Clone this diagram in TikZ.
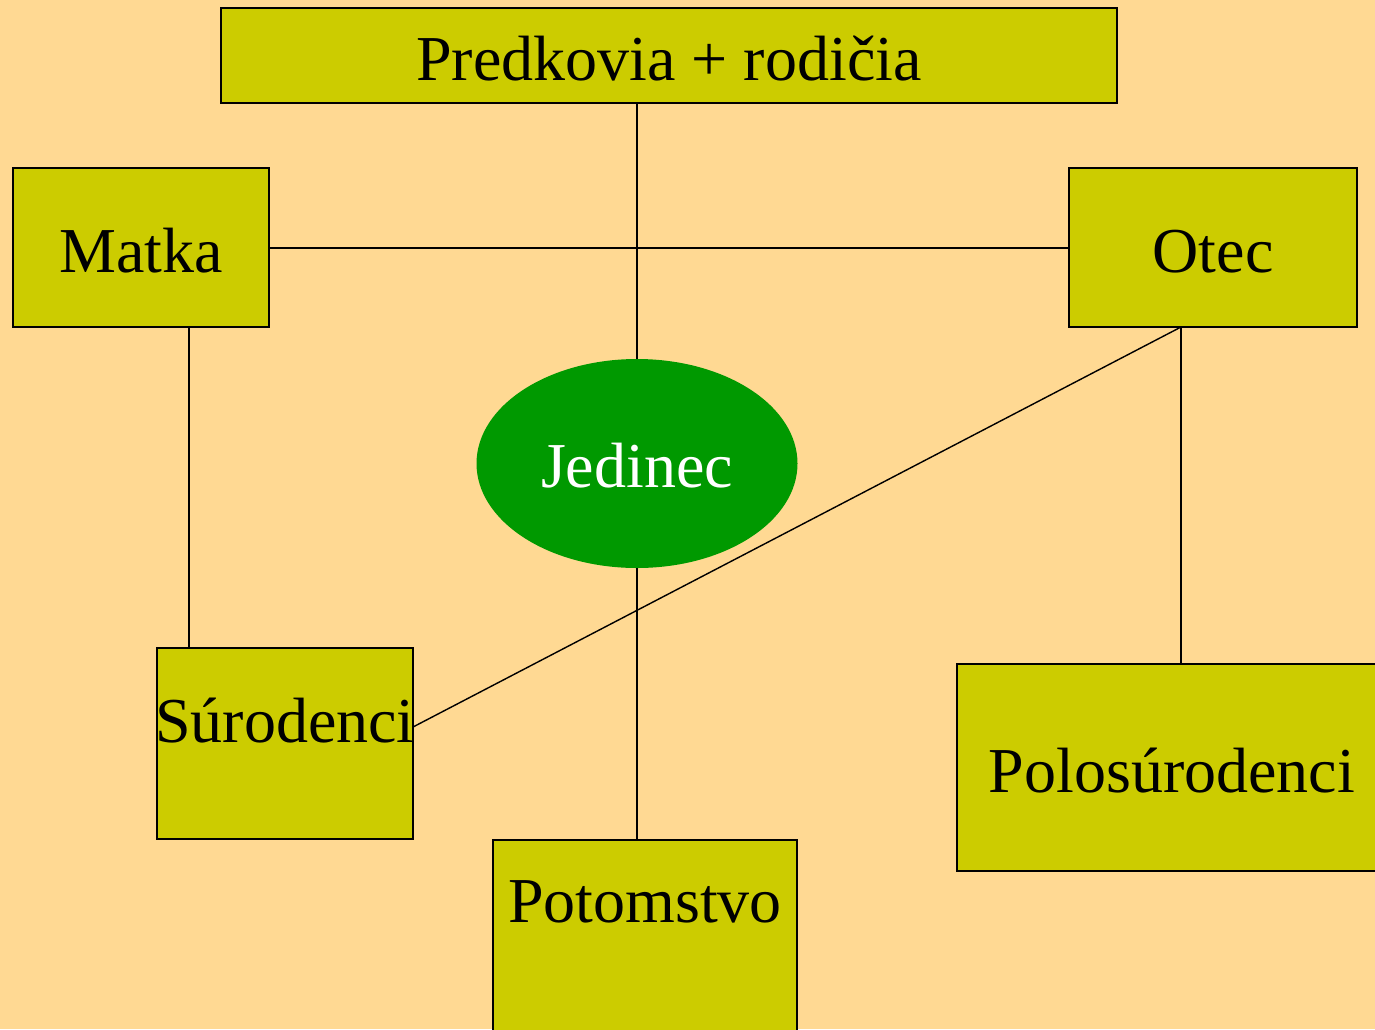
\documentclass[tikz,border=0pt]{standalone}
\usepackage{fontspec}
\setmainfont{Liberation Serif}
\usetikzlibrary{shapes.geometric}
\definecolor{bg}{RGB}{255,217,147}
\definecolor{boxc}{RGB}{204,204,0}
\definecolor{grn}{RGB}{0,153,0}
\tikzset{
  box/.style={draw=black, line width=1.6pt, fill=boxc, rectangle, inner sep=0pt},
  lbl/.style={font=\fontsize{64}{70}\selectfont, inner sep=0pt, anchor=base},
  conn/.style={draw=black, line width=1.4pt},
}
\begin{document}
\begin{tikzpicture}[x=1pt,y=-1pt]
\fill[bg] (0,0) rectangle (1375,1029);
\useasboundingbox (0,0) rectangle (1375,1029);
\clip (0,0) rectangle (1375,1029);
% boxes
\node[box, minimum width=896pt, minimum height=95pt] (pred) at (669,55.5) {};
\node[box, minimum width=256pt, minimum height=159pt] (matka) at (141,247.5) {};
\node[box, minimum width=288pt, minimum height=159pt] (otec) at (1213,247.5) {};
\node[box, minimum width=256pt, minimum height=191pt] (sur) at (285,743.5) {};
\node[box, minimum width=304pt, minimum height=220pt] (pot) at (645,950) {};
\node[box, minimum width=440pt, minimum height=207pt] (polo) at (1177,767.5) {};
\node[ellipse, fill=grn, minimum width=321pt, minimum height=209pt, inner sep=0pt] (jed) at (637,463.5) {};
% connectors
\coordinate (mb) at (189,327);
\coordinate (sb) at (189,648);
\coordinate (ob) at (1181,327);
\coordinate (pt) at (1181,664);
\coordinate (sr) at (413,727);
\draw[conn] (pred.south -| jed.north) -- (jed.north);
\draw[conn] (jed.south) -- (pot.north -| jed.south);
\draw[conn] ([yshift=-0.5pt]matka.east) -- ([yshift=-0.5pt]otec.west);
\draw[conn] (mb) -- (sb);
\draw[conn] (ob) -- (pt);
\draw[conn] (ob) -- (sr);
% texts
\node[lbl] (tpred) at (669,80) {Predkovia + rodičia};
\node[lbl] (tmatka) at (141,272) {Matka};
\node[lbl] (totec) at (1213,272) {Otec};
\node[lbl, text=white] (tjed) at (637,487) {Jedinec};
\node[lbl] (tsur) at (285,742) {Súrodenci};
\node[lbl] (tpot) at (645,922) {Potomstvo};
\node[lbl] (tpolo) at (1172,792) {Polosúrodenci};
\end{tikzpicture}
\end{document}
